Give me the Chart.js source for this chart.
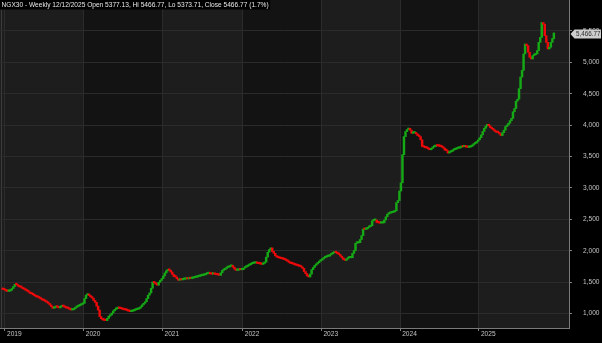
<!DOCTYPE html>
<html><head><meta charset="utf-8">
<script src="https://cdn.jsdelivr.net/npm/chart.js@4/dist/chart.umd.min.js"></script>
<style>html,body{margin:0;padding:0;background:#000;overflow:hidden}#wrap{width:602px;height:343px;position:relative}</style>
</head><body><div id="wrap"><canvas id="c" width="602" height="343"></canvas></div>
<script>
const titleText = 'NGX30 - Weekly 12/12/2025 Open 5377.13, Hi 5466.77, Lo 5373.71, Close 5466.77 (1.7%)';
const firstWeek = '2018-12-21';
const firstOpen = 1392;
const lastHigh = 5466.77;
const lastLow = 5373.71;
// weekly closes
const closes = [
 1385,1380,1362,1355,1358,1372,1400,1432,1468,1460,
 1440,1426,1418,1400,1388,1374,1360,1345,1322,1315,
 1300,1285,1268,1262,1250,1235,1216,1210,1195,1180,
 1164,1140,1112,1085,1098,1110,1104,1092,1108,1121,
 1115,1100,1090,1082,1070,1058,1062,1080,1100,1112,
 1125,1137,1150,1164,1240,1295,1310,1290,1265,1248,
 1210,1180,1120,1058,953,920,900,893,890,925,
 960,980,1010,1045,1069,1080,1086,1085,1078,1070,
 1062,1058,1050,1040,1032,1038,1045,1058,1065,1072,
 1085,1110,1140,1165,1190,1240,1295,1330,1405,1505,
 1490,1470,1453,1500,1530,1558,1600,1647,1680,1700,
 1690,1662,1625,1590,1584,1555,1531,1540,1537,1545,
 1550,1558,1552,1560,1558,1565,1572,1578,1584,1592,
 1598,1605,1610,1618,1630,1637,1640,1632,1628,1630,
 1626,1620,1615,1610,1650,1689,1700,1720,1735,1742,
 1755,1768,1740,1710,1689,1692,1700,1698,1700,1725,
 1740,1752,1768,1780,1795,1800,1805,1805,1800,1795,
 1790,1784,1800,1820,1900,1978,2020,2047,1990,1960,
 1920,1899,1890,1880,1874,1868,1860,1847,1835,1815,
 1800,1795,1785,1775,1768,1760,1752,1742,1720,1670,
 1637,1600,1584,1630,1700,1735,1768,1790,1810,1836,
 1850,1870,1889,1900,1910,1915,1935,1952,1965,1978,
 1970,1955,1942,1915,1889,1860,1847,1870,1889,1889,
 1890,1960,2005,2120,2125,2130,2180,2241,2347,2340,
 2350,2372,2385,2400,2478,2485,2490,2451,2445,2440,
 2442,2445,2490,2541,2583,2595,2605,2609,2620,2636,
 2767,2800,2951,3082,3530,3818,3897,3930,3950,3920,
 3870,3875,3880,3860,3834,3818,3766,3660,3650,3640,
 3634,3620,3608,3630,3650,3660,3672,3668,3665,3660,
 3650,3634,3600,3593,3555,3570,3580,3600,3610,3620,
 3630,3634,3645,3660,3655,3660,3650,3645,3650,3660,
 3680,3700,3713,3740,3766,3800,3845,3900,3950,3985,
 4013,3990,3960,3940,3924,3900,3885,3880,3860,3834,
 3880,3920,3977,4000,4030,4070,4107,4213,4265,4382,
 4413,4580,4765,4871,5133,5290,5265,5160,5080,5053,
 5106,5120,5133,5186,5317,5396,5632,5606,5423,5317,
 5212,5240,5317,5377.13,5466.77
];
const yearLabels = ['2019','2020','2021','2022','2023','2024','2025'];
const yTickValues = [1000,1500,2000,2500,3000,3500,4000,4500,5000,5500];

// build weekly dates and OHLC-style ranges
const start = new Date(firstWeek + 'T00:00:00Z');
const weekYears = closes.map((_, i) => new Date(start.getTime() + i * 7 * 86400000).getUTCFullYear());
const opens = closes.map((c, i) => i === 0 ? firstOpen : closes[i - 1]);
const bars = closes.map((c, i) => {
  let lo = Math.min(opens[i], c), hi = Math.max(opens[i], c);
  if (i === closes.length - 1) { lo = lastLow; hi = lastHigh; }
  return { x: i, y: [lo, hi] };
});
const barColors = closes.map((c, i) => c >= opens[i] ? '#16a916' : '#ee0a0a');
const yearPos = yearLabels.map(y => weekYears.findIndex(wy => wy >= +y) - 0.5);

const FONT = 'Liberation Sans';
const LIGHT = '#1d1d1d', DARK = '#131313';

const bgPlugin = {
  id: 'bg',
  beforeDraw(chart) {
    const { ctx, chartArea: a, scales: { x } } = chart;
    ctx.save();
    ctx.fillStyle = '#000';
    ctx.fillRect(0, 0, chart.width, chart.height);
    const edges = [a.left, ...yearPos.slice(1).map(v => x.getPixelForValue(v)), a.right];
    for (let k = 0; k < edges.length - 1; k++) {
      ctx.fillStyle = k % 2 === 0 ? LIGHT : DARK;
      ctx.fillRect(edges[k], a.top, edges[k + 1] - edges[k], a.bottom - a.top);
    }
    ctx.strokeStyle = '#3c3c3c';
    ctx.lineWidth = 1;
    ctx.beginPath(); ctx.moveTo(a.left + 1.5, a.top); ctx.lineTo(a.left + 1.5, a.bottom); ctx.stroke();
    ctx.restore();
  },
  afterDraw(chart) {
    const { ctx, chartArea: a, scales: { y } } = chart;
    ctx.save();
    // title
    ctx.font = '6.6px "' + FONT + '"';
    const w = ctx.measureText(titleText).width;
    ctx.fillStyle = '#000';
    ctx.fillRect(0, 0, w + 3, 9.5);
    ctx.fillStyle = '#e6e6e6';
    ctx.textBaseline = 'middle';
    ctx.fillText(titleText, 1.5, 5);
    // last price tag
    const last = closes[closes.length - 1];
    const py = Math.round(y.getPixelForValue(last)) + 1;
    ctx.fillStyle = '#cdcdcd';
    ctx.beginPath();
    ctx.moveTo(a.right + 1.5, py);
    ctx.lineTo(a.right + 5.5, py - 4.5);
    ctx.lineTo(601, py - 4.5);
    ctx.lineTo(601, py + 4.5);
    ctx.lineTo(a.right + 5.5, py + 4.5);
    ctx.closePath();
    ctx.fill();
    ctx.fillStyle = '#2a2a2a';
    ctx.font = '6.3px "' + FONT + '"';
    ctx.textAlign = 'left';
    ctx.fillText(last.toLocaleString('en-US', { minimumFractionDigits: 2, maximumFractionDigits: 2 }), a.right + 7, py + 0.5);
    ctx.restore();
  }
};

new Chart(document.getElementById('c'), {
  type: 'bar',
  data: {
    datasets: [{
      data: bars,
      backgroundColor: barColors,
      borderWidth: 0,
      barThickness: 1.8,
      minBarLength: 1.5,
      grouped: false
    }]
  },
  options: {
    responsive: false,
    animation: false,
    devicePixelRatio: 1,
    layout: { padding: 0 },
    plugins: { legend: { display: false }, tooltip: { enabled: false }, title: { display: false } },
    scales: {
      x: {
        type: 'linear', min: -1.8, max: 374, offset: false,
        afterBuildTicks: s => { s.ticks = yearPos.map(v => ({ value: v })); },
        afterFit: s => { s.height = 15; s.paddingLeft = 0; s.paddingRight = 0; },
        grid: { color: '#2b2b2b', tickColor: '#808080', tickLength: 3, drawTicks: true, offset: false },
        border: { color: '#7a7a7a' },
        ticks: {
          callback: (v, i) => yearLabels[i],
          align: 'start', color: '#c4c4c4', font: { family: FONT, size: 6.6 },
          padding: -1, maxRotation: 0, autoSkip: false, labelOffset: 2
        }
      },
      y: {
        position: 'right', min: 772, max: 5991,
        afterBuildTicks: s => { s.ticks = yTickValues.map(v => ({ value: v })); },
        afterFit: s => { s.width = 33; s.paddingTop = 0; s.paddingBottom = 0; },
        grid: { color: '#2b2b2b', tickColor: '#808080', tickLength: 3 },
        border: { color: '#7a7a7a' },
        ticks: {
          color: '#c4c4c4', font: { family: FONT, size: 6.6 }, padding: 11,
          callback: v => v.toLocaleString('en-US')
        }
      }
    }
  },
  plugins: [bgPlugin]
});
</script></body></html>
